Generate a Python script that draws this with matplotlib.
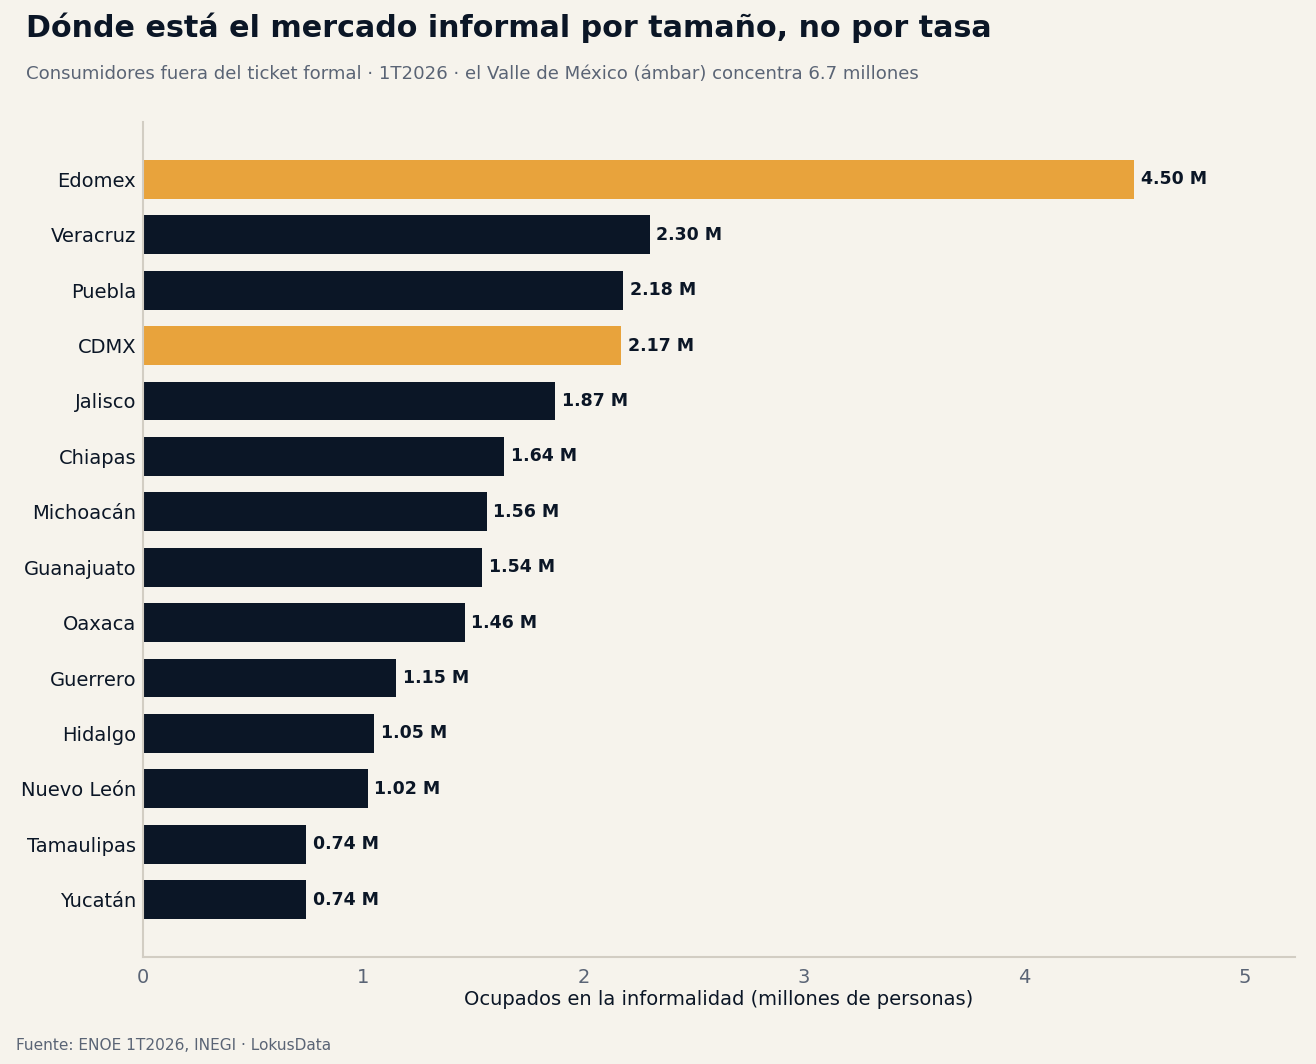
import matplotlib.pyplot as plt

estados = ['Edomex', 'Veracruz', 'Puebla', 'CDMX', 'Jalisco', 'Chiapas', 'Michoacán',
           'Guanajuato', 'Oaxaca', 'Guerrero', 'Hidalgo', 'Nuevo León', 'Tamaulipas', 'Yucatán']
ocupados = [4.50, 2.30, 2.18, 2.17, 1.87, 1.64, 1.56, 1.54, 1.46, 1.15, 1.05, 1.02, 0.74, 0.74]
valle_mexico = ['Edomex', 'CDMX']

BG = '#F6F3EC'
NAVY = '#0B1626'
AMBER = '#E8A33C'
GRAY = '#5A6475'

colors = [AMBER if e in valle_mexico else NAVY for e in estados]

fig = plt.figure(figsize=(13.16, 10.64), dpi=100, facecolor=BG)
ax = fig.add_axes([0.1087, 0.1006, 0.8753, 0.7847], facecolor=BG)

y = list(range(len(estados)))
bars = ax.barh(y, ocupados, height=0.7, color=colors)
ax.set_yticks(y)
ax.set_yticklabels(estados, fontsize=14, color=NAVY)
ax.invert_yaxis()
ax.set_xlim(0, 5.23)
ax.set_xticks([0, 1, 2, 3, 4, 5])
ax.tick_params(axis='x', length=0, labelsize=14, labelcolor=GRAY, pad=8)
ax.tick_params(axis='y', length=0, pad=5)
ax.set_xlabel('Ocupados en la informalidad (millones de personas)', fontsize=14, color=NAVY, labelpad=2)

for s in ['top', 'right']:
    ax.spines[s].set_visible(False)
for s in ['left', 'bottom']:
    ax.spines[s].set_color('#D2CDC3')
    ax.spines[s].set_linewidth(1.5)

for bar, v in zip(bars, ocupados):
    ax.text(bar.get_width() + 0.03, bar.get_y() + bar.get_height() / 2, f'{v:.2f} M',
            va='center', ha='left', fontsize=12.5, fontweight='bold', color=NAVY)

fig.text(0.0198, 0.974, 'Dónde está el mercado informal por tamaño, no por tasa',
         fontsize=21.7, fontweight='bold', color=NAVY, va='center')
fig.text(0.0198, 0.930, 'Consumidores fuera del ticket formal · 1T2026 · el Valle de México (ámbar) concentra 6.7 millones',
         fontsize=13.1, color=GRAY, va='center')
fig.text(0.012, 0.017, 'Fuente: ENOE 1T2026, INEGI · LokusData', fontsize=11.1, color=GRAY, va='center')

fig.savefig('out.png', dpi=100, facecolor=BG)
